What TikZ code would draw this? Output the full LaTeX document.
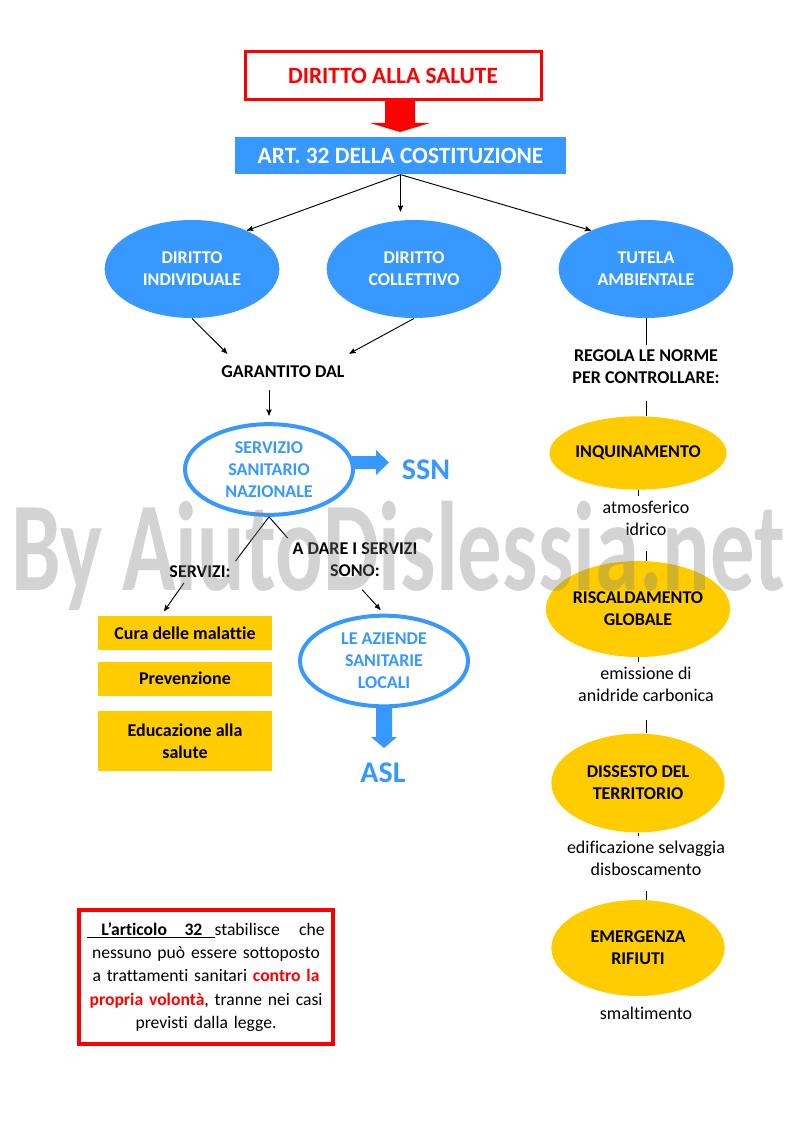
\documentclass[tikz,border=0pt]{standalone}
\usepackage{fontspec}
\setmainfont{Carlito}[Ligatures=NoCommon]
\usetikzlibrary{arrows,shapes.geometric}

\definecolor{azzurro}{RGB}{55,153,255}
\definecolor{giallo}{RGB}{255,204,0}
\definecolor{rosso}{RGB}{255,0,0}
\newcommand{\corpo}{\fontsize{13.5}{16.5}\selectfont}

\begin{document}
\begin{tikzpicture}[x=0.75pt,y=-0.75pt,>=stealth',line width=0.7pt,font=\corpo,align=center]
	\tikzstyle{titolo}=[draw=rosso,line width=2.25pt,minimum width=222pt,minimum height=36pt,text=rosso,font=\fontsize{17.5}{20}\selectfont\bfseries]
	\tikzstyle{articolo}=[fill=azzurro,text=white,minimum width=248pt,minimum height=28pt,font=\fontsize{17.5}{20}\selectfont\bfseries]
	\tikzstyle{ovale}=[ellipse,fill=azzurro,text=white,inner sep=0pt,minimum width=131pt,minimum height=73.5pt,font=\corpo\bfseries]
	\tikzstyle{ovalebianco}=[ellipse,draw=azzurro,line width=3pt,fill=white,text=azzurro,inner sep=0pt,minimum width=126pt,minimum height=68pt,font=\corpo\bfseries]
	\tikzstyle{ovalegiallo}=[ellipse,fill=giallo,inner sep=0pt,minimum width=130pt,minimum height=72pt,font=\corpo\bfseries]
	\tikzstyle{casella}=[fill=giallo,minimum width=130.5pt,minimum height=25.5pt,font=\corpo\bfseries]
	\tikzstyle{etichetta}=[font=\corpo\bfseries]
	\tikzstyle{testo}=[font=\corpo]
	\tikzstyle{sigla}=[text=azzurro,font=\fontsize{22.5}{26}\selectfont\bfseries]
	\tikzstyle{nota}=[draw=rosso,line width=3pt,minimum width=190pt,minimum height=100pt,text width=178pt,font=\fontsize{13.2}{17.5}\selectfont]

	\useasboundingbox (0,0) rectangle (793,1123);

	\node[titolo] (salute) at (393,75.5) {DIRITTO ALLA SALUTE};
	\node[articolo] (art) at (400.5,155.5) {ART. 32 DELLA COSTITUZIONE};
	\fill[rosso] (385,100) -- (415,100) -- (415,123) -- (430,123) -- (400,132) -- (370,123) -- (385,123) -- cycle;

	\node[ovale] (individuale) at (192,269) {DIRITTO\\INDIVIDUALE};
	\node[ovale] (collettivo) at (414,269) {DIRITTO\\COLLETTIVO};
	\node[ovale] (tutela) at (646,269) {TUTELA\\AMBIENTALE};

	\draw[->] (art.south) -- (individuale.35);
	\draw[->,shorten >=6pt] (art.south) -- (art.south |- collettivo.north);
	\draw[->] (art.south) -- (tutela.145);

	\node[etichetta,inner ysep=9pt] (garantito) at (283,372) {GARANTITO DAL};
	\draw[->] (individuale.south) -- ([xshift=8pt]garantito.north west);
	\draw[->] (collettivo.south) -- (garantito.north east);

	\node[ovalebianco] (ssn) at (269,469.5) {SERVIZIO\\SANITARIO\\NAZIONALE};
	\draw[->,shorten >=5pt] (ssn.north |- garantito.south) -- (ssn.north);
	\fill[azzurro] (352,456) -- (376,456) -- (376,450) -- (389,462.5) -- (376,475) -- (376,469) -- (352,469) -- cycle;
	\node[sigla] (ssnsigla) at (426,470) {SSN};

	\node[etichetta] (servizi) at (200,572) {SERVIZI:};
	\node[etichetta] (dare) at (355,560) {A DARE I SERVIZI\\SONO:};
	\draw (ssn.south) -- (servizi.north east);
	\draw (ssn.south) -- (dare.north west);

	\node[casella] (cura) at (185,633) {Cura delle malattie};
	\node[casella] (prevenzione) at (185,678.5) {Prevenzione};
	\node[casella,minimum height=45pt] (educazione) at (185,741) {Educazione alla\\salute};
	\draw[->,shorten >=4pt] ([xshift=-12pt]servizi.south) -- ([xshift=-18pt]cura.north);

	\node[ovalebianco] (asl) at (384,661) {LE AZIENDE\\SANITARIE\\LOCALI};
	\draw[->,shorten <=8pt,shorten >=4pt] (dare.south) -- (asl.north);
	\fill[azzurro] (376,706) -- (392,706) -- (392,737) -- (397,737) -- (384,748) -- (371,737) -- (376,737) -- cycle;
	\node[sigla] (aslsigla) at (383,773) {ASL};

	% colonna destra
	\node[etichetta] (regola) at (646,367) {REGOLA LE NORME\\PER CONTROLLARE:};
	\node[ovalegiallo,minimum height=55pt] (inquinamento) at (638,453) {INQUINAMENTO};
	\node[testo] (inqtesto) at (646,518) {atmosferico\\idrico};
	\node[ovalegiallo] (riscaldamento) at (638,609) {RISCALDAMENTO\\GLOBALE};
	\node[testo] (risctesto) at (646,684) {emissione di\\anidride carbonica};
	\node[ovalegiallo,minimum height=74pt] (dissesto) at (638,783) {DISSESTO DEL\\TERRITORIO};
	\node[testo] (disstesto) at (646,858) {edificazione selvaggia\\disboscamento};
	\node[ovalegiallo] (emergenza) at (638,948) {EMERGENZA\\RIFIUTI};
	\node[testo] (emertesto) at (646,1013) {smaltimento};

	\draw (tutela.south) -- (tutela.south |- regola.north);
	\draw[shorten <=9pt] (regola.south) -- (regola.south |- inquinamento.north);
	\draw (inquinamento.south) -- (inquinamento.south |- inqtesto.north);
	\draw[shorten <=8pt] (inqtesto.south) -- (inqtesto.south |- riscaldamento.north);
	\draw (riscaldamento.south) -- (riscaldamento.south |- risctesto.north);
	\draw[shorten <=10pt] (risctesto.south) -- (risctesto.south |- dissesto.north);
	\draw (dissesto.south) -- (dissesto.south |- disstesto.north);
	\draw[shorten <=8pt] (disstesto.south) -- (disstesto.south |- emergenza.north);

	\node[nota] (articolo) at (206,977) {\makebox[\linewidth]{\underline{\hspace{0.8em}\textbf{L’articolo}\hspace{1em}\textbf{32}\hspace{0.7em}}stabilisce\hfill che}\\
		nessuno può essere sottoposto\\
		a trattamenti sanitari \textcolor{rosso}{\textbf{contro la}}\\
		\textcolor{rosso}{\textbf{propria volontà}}, tranne nei casi\\
		previsti dalla legge.};

	\node[anchor=base,text=gray,text opacity=0.35,font=\bfseries,inner sep=0pt] (filigrana) at (398,590) {\resizebox{580pt}{67pt}{By AiutoDislessia.net}};
\end{tikzpicture}
\end{document}
